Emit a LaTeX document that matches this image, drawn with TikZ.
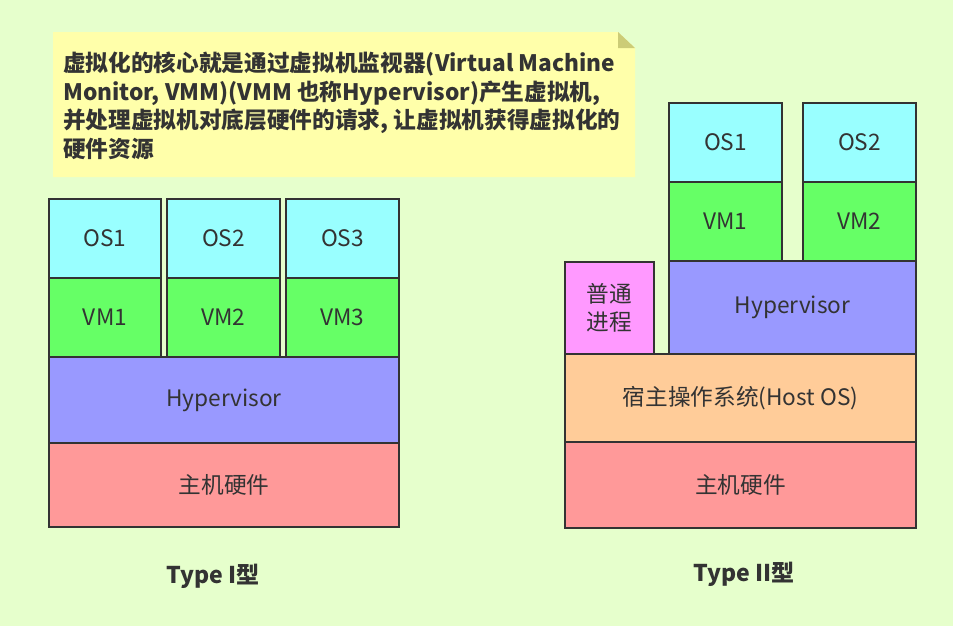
\documentclass[tikz,border=0pt]{standalone}
\usepackage{fontspec}
\usepackage{xcolor}
\usetikzlibrary{positioning}
\newfontfamily\cjk{Noto Sans CJK SC}

\definecolor{bgcol}{HTML}{E6FFCC}
\definecolor{notecol}{HTML}{FFFFAA}
\definecolor{foldcol}{HTML}{CCCC77}
\definecolor{oscol}{HTML}{99FFFF}
\definecolor{vmcol}{HTML}{66FF66}
\definecolor{hypcol}{HTML}{9999FF}
\definecolor{hwcol}{HTML}{FF9999}
\definecolor{hostcol}{HTML}{FFCC99}
\definecolor{proccol}{HTML}{FF99FF}
\definecolor{inkcol}{HTML}{333333}

\begin{document}
\begin{tikzpicture}[
    x=0.75pt, y=-0.75pt,
    layer/.style={draw=inkcol, line width=1.3pt, outer sep=0pt, inner sep=0pt,
        font=\cjk\fontsize{17pt}{21pt}\selectfont, text=inkcol, align=center},
    osbox/.style={layer, fill=oscol, minimum width=84.5pt, minimum height=59.25pt},
    vmbox/.style={layer, fill=vmcol, minimum width=84.5pt, minimum height=59.25pt},
    caption/.style={font=\cjk\bfseries\fontsize{17.3pt}{20pt}\selectfont, text=inkcol}
]
    % Background
    \fill[bgcol] (0,0) rectangle (953,626);
    \useasboundingbox (0,0) rectangle (953,626);

    % Note
    \fill[notecol] (53,32) -- (618,32) -- (635,48) -- (635,177) -- (53,177) -- cycle;
    \fill[foldcol] (618,32) -- (635,48) -- (618,48) -- cycle;
    \node[anchor=north west, inner sep=0pt, align=left, text=inkcol,
        font=\cjk\bfseries\fontsize{17pt}{21.3pt}\selectfont] (note) at (63,52)
        {虚拟化的核心就是通过虚拟机监视器(Virtual Machine\\
         Monitor, VMM)(VMM 也称Hypervisor)产生虚拟机,\\
         并处理虚拟机对底层硬件的请求, 让虚拟机获得虚拟化的\\
         硬件资源};

    % Type I
    \node[layer, fill=hwcol, minimum width=262.5pt, minimum height=63pt] (hwA) at (224,485) {主机硬件};
    \node[layer, fill=hypcol, minimum width=262.5pt, minimum height=64.5pt] (hypA) at (224,400) {Hypervisor};
    \node[vmbox] (vmA1) at (105,317.5) {VM1};
    \node[vmbox] (vmA2) at (223.5,317.5) {VM2};
    \node[vmbox] (vmA3) at (342.5,317.5) {VM3};
    \node[osbox] (osA1) at (105,238.5) {OS1};
    \node[osbox] (osA2) at (223.5,238.5) {OS2};
    \node[osbox] (osA3) at (342.5,238.5) {OS3};
    \node[caption] (typeA) at (213,576) {Type I型};

    % Type II
    \node[layer, fill=hwcol, minimum width=263.25pt, minimum height=64.5pt] (hwB) at (740.5,485) {主机硬件};
    \node[layer, fill=hostcol, minimum width=263.25pt, minimum height=66pt] (hostB) at (740.5,398) {宿主操作系统(Host OS)};
    \node[layer, fill=proccol, minimum width=66.75pt, minimum height=69pt] (procB) at (609.5,308) {普通\\进程};
    \node[layer, fill=hypcol, minimum width=185.25pt, minimum height=69.75pt] (hypB) at (792.5,307.5) {Hypervisor};
    \node[vmbox] (vmB1) at (725.5,221.5) {VM1};
    \node[vmbox] (vmB2) at (859.5,221.5) {VM2};
    \node[osbox] (osB1) at (725.5,142.5) {OS1};
    \node[osbox] (osB2) at (859.5,142.5) {OS2};
    \node[caption] (typeB) at (744,574) {Type II型};
\end{tikzpicture}
\end{document}
